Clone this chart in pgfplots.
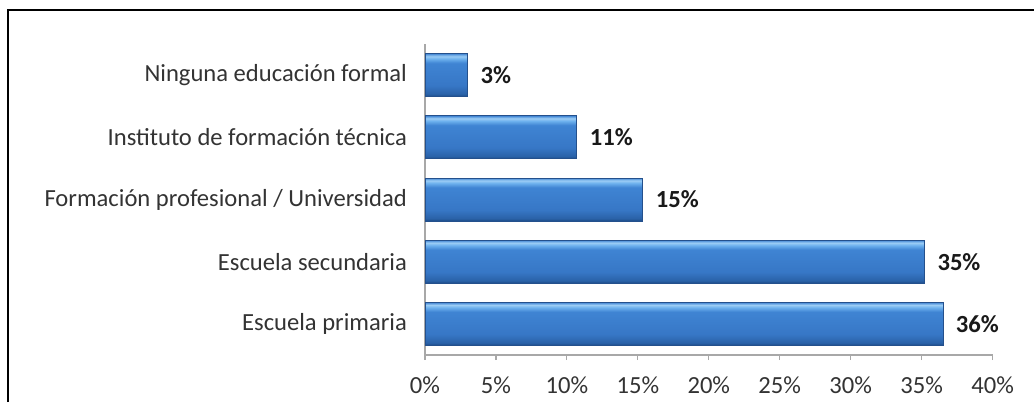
\documentclass[border=0pt]{standalone}
\usepackage{fontspec}
\setmainfont{Carlito}
\usepackage{pgfplots}
\pgfplotsset{compat=1.18}
\definecolor{txt}{HTML}{333333}
\definecolor{axgray}{HTML}{A8A8A8}
\definecolor{bdark}{HTML}{1C4A86}
\definecolor{bdark2}{HTML}{2A62A8}
\definecolor{bmid}{HTML}{3777C6}
\definecolor{bmid2}{HTML}{3F84D3}
\definecolor{blight}{HTML}{6DB1EE}
\definecolor{bhigh}{HTML}{9CCDF5}
\definecolor{bedge}{HTML}{24508C}
\pgfdeclareverticalshading{barshade}{100bp}{color(0bp)=(bdark); color(25bp)=(bdark); color(28bp)=(bdark2); color(38bp)=(bmid); color(64bp)=(bmid2); color(69bp)=(blight); color(72bp)=(bhigh); color(75bp)=(bmid2); color(100bp)=(bmid2)}
\tikzset{mybar/.style={shading=barshade, draw=bedge, line width=0.4pt}}
\begin{document}
\begin{tikzpicture}
\useasboundingbox (0,0) rectangle (517pt,201pt);
\draw[line width=0.8pt, black] (4pt,0) -- (4pt,196pt) -- (517pt,196pt);
\begin{axis}[
  at={(212.5pt,23.5pt)}, anchor=south west,
  scale only axis, width=283.8pt, height=155.5pt,
  xbar, bar width=21.5pt, bar shift=0pt,
  xmin=0, xmax=40, ymin=-0.5, ymax=4.5,
  axis lines*=left,
  axis line style={axgray, line width=0.7pt},
  xtick={0,5,...,40},
  xticklabels={0\%,5\%,10\%,15\%,20\%,25\%,30\%,35\%,40\%},
  ytick={0,1,2,3,4},
  yticklabels={Escuela primaria,Escuela secundaria,Formación profesional / Universidad,Instituto de formación técnica,Ninguna educación formal},
  minor ytick={-0.5,0.5,1.5,2.5,3.5,4.5},
  tick align=outside,
  major tick length=2.5pt,
  minor tick length=2.5pt,
  every y tick/.style={draw=none},
  every minor tick/.style={axgray, line width=0.6pt},
  every major tick/.append style={axgray, line width=0.6pt},
  ticklabel style={font=\fontsize{12.3}{14}\selectfont, text=txt},
  xticklabel style={yshift=-5pt},
  yticklabel style={xshift=-3pt},
  point meta=explicit symbolic,
  nodes near coords,
  nodes near coords style={font=\fontsize{12.3}{14}\selectfont\bfseries, text=black!90, anchor=west, xshift=3pt},
  clip=false,
]
\addplot[mybar] coordinates {(36.5,0) [36\%]};
\addplot[mybar] coordinates {(35.2,1) [35\%]};
\addplot[mybar] coordinates {(15.35,2) [15\%]};
\addplot[mybar] coordinates {(10.7,3) [11\%]};
\addplot[mybar] coordinates {(3.0,4) [3\%]};
\end{axis}
\end{tikzpicture}
\end{document}
